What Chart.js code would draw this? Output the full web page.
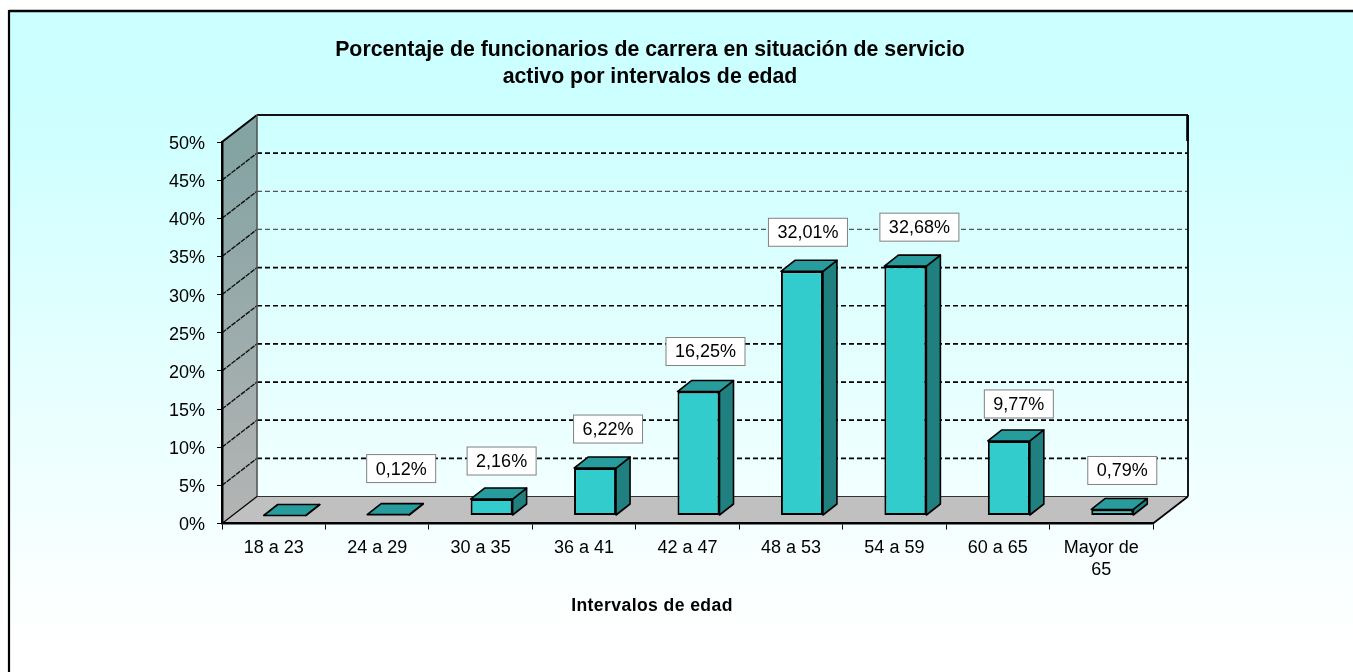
<!DOCTYPE html>
<html>
<head>
<meta charset="utf-8">
<title>Funcionarios de carrera por edad</title>
<script src="https://cdn.jsdelivr.net/npm/chart.js@4"></script>
<style>
  html, body { margin: 0; padding: 0; background: #fff; overflow: hidden; }
  canvas { display: block; }
</style>
</head>
<body>
<canvas id="grafico" width="1353" height="672"></canvas>
<script>
const categorias = ['18 a 23', '24 a 29', '30 a 35', '36 a 41', '42 a 47', '48 a 53', '54 a 59', '60 a 65', ['Mayor de', '65']];
const porcentajes = [0, 0.12, 2.16, 6.22, 16.25, 32.01, 32.68, 9.77, 0.79];
const etiquetas = [null, '0,12%', '2,16%', '6,22%', '16,25%', '32,01%', '32,68%', '9,77%', '0,79%'];
const titulo = ['Porcentaje de funcionarios de carrera en situación de servicio', 'activo por intervalos de edad'];
const tituloEjeX = 'Intervalos de edad';

const fuente = '"Liberation Sans", Arial, sans-serif';
const tamTexto = 18;

// Falso 3D: desplazamiento del fondo del grafico y de la barra
const fondo = { x: 35, y: -27 };
const barra = { x: 14, y: -11 };
const posBarra = { x: 11, y: -8 };
// Las cajas de texto no estan todas a la misma distancia de su barra
const ajusteX = [0, 13, 10, 13, 7, 6, 14, 10, 10];
const ajusteY = [0, -46, -38, -39, -40, -39, -39, -37, -39];

function poligono(ctx, puntos, relleno, borde, grosor) {
  ctx.beginPath();
  puntos.forEach((p, i) => i ? ctx.lineTo(p[0], p[1]) : ctx.moveTo(p[0], p[1]));
  ctx.closePath();
  if (relleno) { ctx.fillStyle = relleno; ctx.fill(); }
  if (borde) { ctx.strokeStyle = borde; ctx.lineWidth = grosor; ctx.stroke(); }
}

function linea(ctx, x1, y1, x2, y2, color, grosor, guiones) {
  ctx.beginPath();
  ctx.setLineDash(guiones || []);
  ctx.moveTo(x1, y1);
  ctx.lineTo(x2, y2);
  ctx.strokeStyle = color;
  ctx.lineWidth = grosor;
  ctx.stroke();
  ctx.setLineDash([]);
}

const falso3D = {
  id: 'falso3D',
  // Las etiquetas del eje Y van un poco por debajo de su marca
  afterUpdate(chart) {
    chart.scales.y.getLabelItems().forEach((item) => { item.options.translation[1] += 2; });
  },
  // Fondo degradado, marco, paredes y suelo
  beforeDraw(chart) {
    const ctx = chart.ctx;
    const { left, right, top, bottom } = chart.chartArea;
    const y = chart.scales.y;
    ctx.save();

    const degradado = ctx.createLinearGradient(0, 100, 0, 640);
    degradado.addColorStop(0, '#ccffff');
    degradado.addColorStop(1, '#ffffff');
    ctx.fillStyle = degradado;
    ctx.fillRect(9, 11, chart.width, chart.height);
    linea(ctx, 9, 11, chart.width, 11, '#000', 2.6);
    linea(ctx, 9, 10, 9, chart.height, '#000', 2.2);

    const pared = ctx.createLinearGradient(0, top, 0, bottom);
    pared.addColorStop(0, '#84a3a3');
    pared.addColorStop(1, '#b4b4b4');
    poligono(ctx, [[left, top], [left + fondo.x, top + fondo.y], [left + fondo.x, bottom + fondo.y], [left, bottom]], pared);
    poligono(ctx, [[left, bottom], [left + fondo.x, bottom + fondo.y], [right + fondo.x, bottom + fondo.y], [right, bottom]], '#c0c0c0');

    y.ticks.forEach((t) => {
      const py = y.getPixelForValue(t.value);
      if (t.value > 0 && t.value < 50) {
        linea(ctx, left, py, left + fondo.x, py + fondo.y, '#111', 1.4, [5, 1]);
        const tenue = t.value === 40 || t.value === 35;
        linea(ctx, left + fondo.x, py + fondo.y, right + fondo.x, py + fondo.y, tenue ? '#555' : '#000', tenue ? 1.2 : 1.7, [5, 3]);
      }
    });

    linea(ctx, left, top, left + fondo.x, top + fondo.y, '#000', 2);
    linea(ctx, left + fondo.x, top + fondo.y, right + fondo.x, top + fondo.y, '#111', 2);
    linea(ctx, left + fondo.x, top + fondo.y, left + fondo.x, bottom + fondo.y, '#555', 1.6);
    linea(ctx, right + fondo.x, top + fondo.y, right + fondo.x, bottom + fondo.y, '#000', 1.8);
    linea(ctx, right + fondo.x - 0.5, top + fondo.y, right + fondo.x - 0.5, top + fondo.y + 26, '#000', 2.6);
    linea(ctx, left + fondo.x, bottom + fondo.y, right + fondo.x, bottom + fondo.y, '#333', 1);
    linea(ctx, right, bottom, right + fondo.x, bottom + fondo.y, '#000', 1.6);
    linea(ctx, left, bottom, left + fondo.x, bottom + fondo.y, '#000', 1.2);

    ctx.restore();
  },
  // Las barras se dibujan desplazadas hacia el interior del suelo
  beforeDatasetsDraw(chart) {
    const ctx = chart.ctx;
    const meta = chart.getDatasetMeta(0);
    ctx.save();
    ctx.translate(posBarra.x, posBarra.y);
    ctx.lineJoin = 'round';
    meta.data.forEach((b) => {
      const izq = b.x - b.width / 2;
      const der = b.x + b.width / 2;
      poligono(ctx, [[der, b.y], [der + barra.x, b.y + barra.y], [der + barra.x, b.base + barra.y], [der, b.base]], '#208080', '#000', 1.6);
      poligono(ctx, [[izq, b.y], [izq + barra.x, b.y + barra.y], [der + barra.x, b.y + barra.y], [der, b.y]], '#289c9c', '#000', 1.6);
    });
  },
  afterDatasetsDraw(chart) {
    const ctx = chart.ctx;
    ctx.restore();
    ctx.save();

    // Cajas con el valor de cada barra
    const meta = chart.getDatasetMeta(0);
    ctx.font = tamTexto + 'px ' + fuente;
    ctx.textAlign = 'center';
    ctx.textBaseline = 'middle';
    meta.data.forEach((b, i) => {
      if (!etiquetas[i]) return;
      const cx = b.x + posBarra.x + ajusteX[i];
      const cy = b.y + posBarra.y + ajusteY[i];
      const ancho = Math.round(ctx.measureText(etiquetas[i]).width) + 18;
      const alto = 28;
      ctx.fillStyle = '#fff';
      ctx.fillRect(cx - ancho / 2, cy - alto / 2, ancho, alto);
      ctx.strokeStyle = '#808080';
      ctx.lineWidth = 1;
      ctx.strokeRect(cx - ancho / 2, cy - alto / 2, ancho, alto);
      ctx.fillStyle = '#000';
      ctx.fillText(etiquetas[i], cx, cy + 1);
    });

    // Titulos
    ctx.fillStyle = '#000';
    ctx.font = 'bold 21.3px ' + fuente;
    titulo.forEach((t, i) => ctx.fillText(t, 650, 50 + i * 27));
    ctx.font = 'bold 17.6px ' + fuente;
    ctx.letterSpacing = '0.4px';
    ctx.fillText(tituloEjeX, 652, 606);
    ctx.letterSpacing = '0px';
    ctx.restore();
  }
};

new Chart(document.getElementById('grafico'), {
  type: 'bar',
  data: {
    labels: categorias,
    datasets: [{
      data: porcentajes,
      backgroundColor: '#33cccc',
      borderColor: '#000',
      borderWidth: 2,
      borderSkipped: false,
      categoryPercentage: 1,
      barPercentage: 0.406,
      clip: false
    }]
  },
  plugins: [falso3D],
  options: {
    responsive: false,
    animation: false,
    layout: { padding: { top: 142, right: 200, bottom: 60, left: 0 } },
    plugins: { legend: { display: false }, tooltip: { enabled: false } },
    scales: {
      x: {
        offset: true,
        afterFit(scale) { scale.height = 672 - 523.5 - 60; },
        grid: { offset: true, drawOnChartArea: false, color: '#000', tickLength: 6, tickWidth: 1 },
        border: { color: '#000', width: 2.5 },
        ticks: { color: '#000', font: { family: fuente, size: tamTexto }, maxRotation: 0, autoSkip: false, padding: 8 }
      },
      y: {
        min: 0,
        max: 50,
        afterFit(scale) { scale.width = 222; },
        grid: { drawOnChartArea: false, color: '#000', tickLength: 5, tickWidth: 1 },
        border: { color: '#000', width: 2.5 },
        ticks: { stepSize: 5, color: '#000', font: { family: fuente, size: tamTexto }, padding: 12, callback: (v) => v + '%' }
      }
    }
  }
});
</script>
</body>
</html>
